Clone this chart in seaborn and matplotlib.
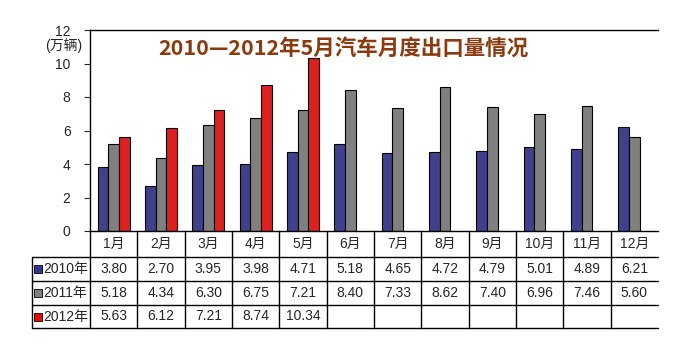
import numpy as np
import pandas as pd
import matplotlib
matplotlib.use("Agg")
import matplotlib.pyplot as plt
import matplotlib.transforms as mtransforms
import seaborn as sns

# data
months = ["1月", "2月", "3月", "4月", "5月", "6月", "7月", "8月", "9月", "10月", "11月", "12月"]
years = ["2010年", "2011年", "2012年"]
v2010 = [3.80, 2.70, 3.95, 3.98, 4.71, 5.18, 4.65, 4.72, 4.79, 5.01, 4.89, 6.21]
v2011 = [5.18, 4.34, 6.30, 6.75, 7.21, 8.40, 7.33, 8.62, 7.40, 6.96, 7.46, 5.60]
v2012 = [5.63, 6.12, 7.21, 8.74, 10.34]
colors = ["#333399", "#808080", "#ff0000"]

series = [v2010, v2011, v2012]
rows = []
for y, vals in zip(years, series):
    for m, v in zip(months, vals):
        rows.append({"month": m, "year": y, "value": v})
df = pd.DataFrame(rows)

sns.set_style("white")
plt.rcParams['font.family'] = ['Liberation Sans', 'Noto Sans CJK SC']

fig = plt.figure(figsize=(6.93, 3.58), dpi=100)
W, H = 693, 358
x0, x1, ytop, ybot = 90, 658, 30, 231
ax = fig.add_axes([x0 / W, 1 - ybot / H, (x1 - x0) / W, (ybot - ytop) / H])

sns.barplot(data=df, x="month", y="value", hue="year", order=months, hue_order=years,
            palette=colors, width=0.68, edgecolor="black", linewidth=0.8,
            legend=False, ax=ax)

ax.set_xlim(-0.5, len(months) - 0.5)
ax.set_ylim(0, 12)
ax.set_yticks(range(0, 13, 2))
ax.set_yticklabels([str(t) for t in range(0, 13, 2)])
ax.tick_params(axis="y", direction="out", length=4, width=0.8, labelsize=10, pad=10, left=True)
ax.set_xticks([])
ax.set_xlabel("")
ax.set_ylabel("")
for s in ["left", "top", "bottom"]:
    ax.spines[s].set_color("black")
    ax.spines[s].set_linewidth(1)
ax.spines["right"].set_visible(False)

# unit label between the 12 and 10 ticks
ax.text(-0.047, 11.05, "(万辆)", transform=ax.get_yaxis_transform(), ha="center", va="center",
        fontsize=10)

fig.text(0.496, 1 - 48 / H, "2010—2012年5月汽车月度出口量情况", ha="center", va="center",
         fontsize=15.5, fontweight="bold", style="italic", color="#8b3a0f",
         family=['Noto Sans CJK SC'])

# data table under the axis
tr = mtransforms.blended_transform_factory(ax.transData, ax.transAxes)
ah = ybot - ytop
row_px = [0, 26, 50, 74, 97]
ry = [-p / ah for p in row_px]
slot = (x1 - x0) / len(months)
xl = -0.5 - (x0 - 32) / slot
xr = len(months) - 0.5
kw = dict(color="black", lw=1, transform=tr, clip_on=False)

# vertical lines
for i in range(len(months)):
    ax.plot([i - 0.5, i - 0.5], [0, ry[-1]], **kw)
ax.plot([xl, xl], [ry[1], ry[-1]], **kw)
# horizontal lines
for y in ry[1:]:
    ax.plot([xl, xr], [y, y], **kw)

for i, m in enumerate(months):
    ax.text(i, (ry[0] + ry[1]) / 2, m, transform=tr, ha="center", va="center", fontsize=10)

for r, (y, vals, c) in enumerate(zip(years, series, colors)):
    yc = (ry[r + 1] + ry[r + 2]) / 2
    ax.plot([xl + 0.13], [yc], marker="s", ms=6, mfc=c, mec="black", mew=0.6,
            transform=tr, clip_on=False)
    ax.text(xl + 0.23, yc, y, transform=tr, ha="left", va="center", fontsize=10)
    for i, v in enumerate(vals):
        ax.text(i, yc, f"{v:.2f}", transform=tr, ha="center", va="center", fontsize=10)

fig.savefig("out.png", dpi=100)
